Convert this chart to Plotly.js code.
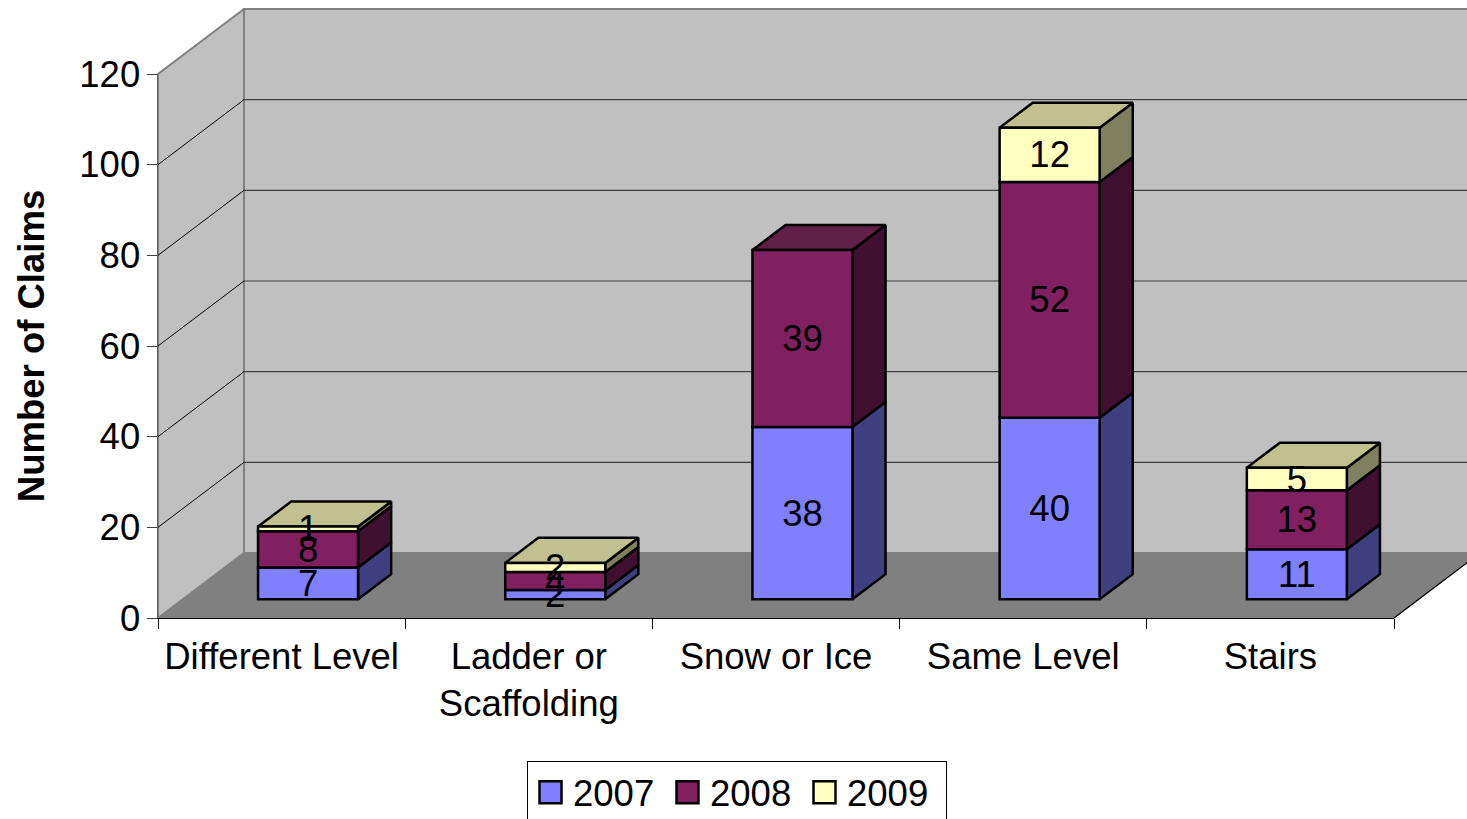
<!DOCTYPE html>
<html>
<head>
<meta charset="utf-8">
<title>Number of Claims</title>
<script src="https://cdn.plot.ly/plotly-3.0.1.min.js"></script>
<style>html,body{margin:0;padding:0;background:#fff;overflow:hidden;width:1467px;height:819px}#frame{width:1467px;height:819px;overflow:hidden}</style>
</head>
<body>
<div id="frame"><div id="chart"></div></div>
<script>
// ---- data ----
const categories = ["Different Level", "Ladder or<br>Scaffolding", "Snow or Ice", "Same Level", "Stairs"];
const seriesNames = ["2007", "2008", "2009"];
const values2007 = [7, 2, 38, 40, 11];
const values2008 = [8, 4, 39, 52, 13];
const values2009 = [1, 2, null, 12, 5];
const valueTicks = [0, 20, 40, 60, 80, 100, 120];

// ---- styles ----
const frontColors = ["#8080FF", "#802060", "#FFFFC0"];
const sideColors = ["#404080", "#401030", "#808060"];
const topColors = ["#6060C0", "#602048", "#C0C090"];
const fontFamily = '"Liberation Sans", Arial, sans-serif';
const fontSize = 36.5;
// the figure is slightly taller than the window: the legend box runs off the bottom edge, as in the reference
const W = 1467, H = 845;

// ---- oblique projection geometry ----
const axisLeft = 158, axisRight = 1394, axisBottom = 618, axisTop = 74;
const pxPerCat = (axisRight - axisLeft) / categories.length;
const pxPerVal = (axisBottom - axisTop) / 120;
const depthX = 86 / pxPerCat, depthY = 65 / pxPerVal; // full floor depth in data units
const zFront = 0.29, zBack = 0.675;                   // bar depth position
const barWidth = 100 / pxPerCat;
const barShift = 1.5 / pxPerCat;
const project = (c, v, z) => [c + z * depthX, v + z * depthY];
const series = [values2007, values2008, values2009];

function polyTrace(polys, fill, line, lineWidth) {
  const x = [], y = [];
  polys.forEach(p => {
    p.forEach(q => { x.push(q[0]); y.push(q[1]); });
    if (fill) { x.push(p[0][0]); y.push(p[0][1]); }
    x.push(null); y.push(null);
  });
  return { type: "scatter", mode: "lines", x, y, xaxis: "x", yaxis: "y", showlegend: false, hoverinfo: "skip",
    fill: fill ? "toself" : "none", fillcolor: fill || undefined,
    line: { color: line, width: lineWidth, simplify: false } };
}

const cL = -0.5, cR = categories.length - 0.5, vMax = 120;
const traces = [];
// walls and floor
traces.push(polyTrace([[project(cL, 0, 0), project(cL, vMax, 0), project(cL, vMax, 1), project(cL, 0, 1)]], "#C0C0C0", "#808080", 2));
traces.push(polyTrace([[project(cL, 0, 1), project(cL, vMax, 1), project(cR, vMax, 1), project(cR, 0, 1)]], "#C0C0C0", "#808080", 2));
traces.push(polyTrace([[project(cL, 0, 0), project(cR, 0, 0), project(cR, 0, 1), project(cL, 0, 1)]], "#808080", "#808080", 1));
traces.push(polyTrace([[project(cR, 0, 0), project(cR, 0, 1)]], null, "#000000", 1.2));
// gridlines
const gridVals = valueTicks.slice(1, -1);
traces.push(polyTrace(gridVals.map(v => [project(cL, v, 0), project(cL, v, 1)]), null, "#000000", 1));
traces.push(polyTrace(gridVals.map(v => [project(cL, v, 1), project(cR, v, 1)]), null, "#404040", 1.2));

// cumulative starts of each segment
const starts = series.map((s, i) => s.map((_, c) => series.slice(0, i).reduce((a, t) => a + (t[c] || 0), 0)));

// right side faces
series.forEach((s, i) => {
  const polys = [];
  s.forEach((v, c) => {
    if (v == null) return;
    const b = starts[i][c], xr = c + barShift + barWidth / 2;
    polys.push([project(xr, b, zFront), project(xr, b + v, zFront), project(xr, b + v, zBack), project(xr, b, zBack)]);
  });
  traces.push(polyTrace(polys, sideColors[i], "#000000", 2.5));
});
// top faces, coloured by the topmost series of each stack
series.forEach((s, i) => {
  const polys = [];
  s.forEach((v, c) => {
    if (v == null) return;
    if (series.slice(i + 1).some(t => t[c] != null)) return;
    const t = starts[i][c] + v, l = c + barShift - barWidth / 2, r = c + barShift + barWidth / 2;
    polys.push([project(l, t, zFront), project(r, t, zFront), project(r, t, zBack), project(l, t, zBack)]);
  });
  if (polys.length) traces.push(polyTrace(polys, topColors[i], "#000000", 2.5));
});

// front faces: real bars on the visible axes
series.forEach((s, i) => {
  traces.push({
    type: "bar", name: seriesNames[i], x: categories, y: s,
    base: starts[i].map(b => b + zFront * depthY),
    xaxis: "x2", yaxis: "y2",
    width: barWidth, offset: -barWidth / 2 + zFront * depthX + barShift,
    marker: { color: frontColors[i], line: { color: "#000000", width: 2.5 } },
    text: s.map(v => v == null ? "" : String(v)),
    textposition: "inside", insidetextanchor: "middle", textangle: 0, constraintext: "none",
    insidetextfont: { family: fontFamily, size: fontSize, color: "#000000" },
    hoverinfo: "skip"
  });
});

const layout = {
  width: W, height: H, autosize: false,
  margin: { l: 0, r: 0, t: 0, b: 0, pad: 0 },
  paper_bgcolor: "#FFFFFF", plot_bgcolor: "rgba(0,0,0,0)",
  barmode: "overlay",
  font: { family: fontFamily, size: fontSize, color: "#000000" },
  hovermode: false,
  xaxis: { domain: [0, 1], anchor: "y", visible: false, fixedrange: true,
    range: [cL - axisLeft / pxPerCat, cL + (W - axisLeft) / pxPerCat] },
  yaxis: { domain: [0, 1], anchor: "x", visible: false, fixedrange: true,
    range: [(axisBottom - H) / pxPerVal, axisBottom / pxPerVal] },
  xaxis2: { domain: [axisLeft / W, axisRight / W], anchor: "y2", type: "category",
    categoryorder: "array", categoryarray: categories, range: [cL, cR], fixedrange: true,
    tickson: "boundaries", ticks: "outside", ticklen: 10, tickwidth: 1, tickcolor: "#000000",
    showline: true, linecolor: "#000000", linewidth: 1, showgrid: false, zeroline: false,
    ticklabelstandoff: 6,
    tickangle: 0, tickfont: { family: fontFamily, size: fontSize, color: "#000000" } },
  yaxis2: { domain: [(H - axisBottom) / H, (H - axisTop) / H], anchor: "x2", range: [0, vMax], fixedrange: true,
    tickmode: "array", tickvals: valueTicks, ticktext: valueTicks.map(String),
    ticks: "outside", ticklen: 10, tickwidth: 1, tickcolor: "#404040",
    showline: true, linecolor: "#606060", linewidth: 1.5, showgrid: false, zeroline: false,
    ticklabelstandoff: -1,
    tickfont: { family: fontFamily, size: fontSize, color: "#000000" },
    title: { text: "<b>Number of Claims</b>", font: { family: fontFamily, size: fontSize, color: "#000000" }, standoff: 23 } },
  legend: { orientation: "h", x: 527 / W, xanchor: "left", y: 1 - 761 / H, yanchor: "top",
    itemwidth: 35, entrywidth: 87, entrywidthmode: "pixels",
    bgcolor: "#FFFFFF", bordercolor: "#000000", borderwidth: 1,
    font: { family: fontFamily, size: fontSize, color: "#000000" }, traceorder: "normal", itemclick: false, itemdoubleclick: false }
};

function enlargeLegendKeys() {
  // the reference's legend keys and box are larger than the library's defaults
  document.querySelectorAll(".legend path").forEach(p => {
    const d = p.getAttribute("d") || "";
    if (/-6/.test(d) && /^M6/.test(d)) p.setAttribute("d", "M11,11H-11V-11H11Z");
  });
  const bg = document.querySelector(".legend rect.bg");
  if (bg) bg.setAttribute("width", 419);
}
const chart = document.getElementById("chart");
Plotly.newPlot(chart, traces, layout, { displayModeBar: false, responsive: false, staticPlot: true }).then(() => {
  enlargeLegendKeys();
  setTimeout(enlargeLegendKeys, 0);
});
</script>
</body>
</html>
